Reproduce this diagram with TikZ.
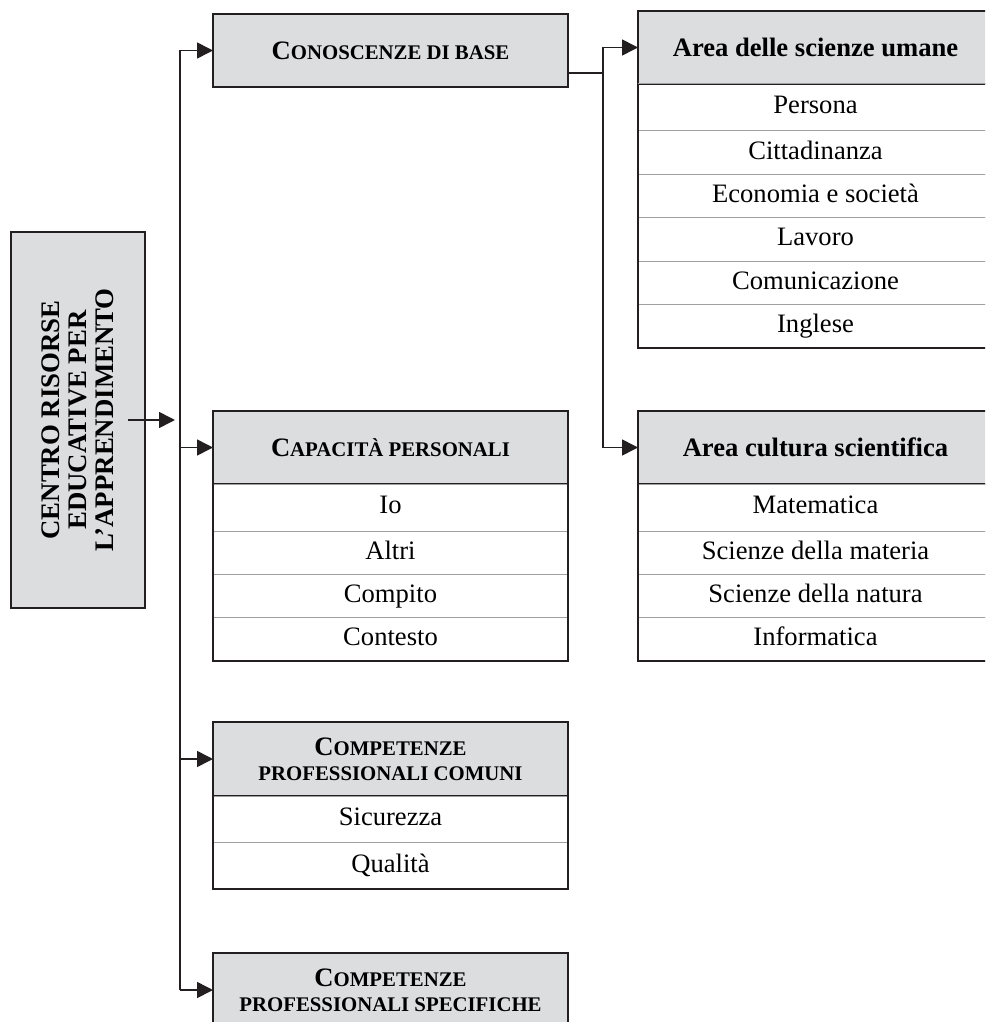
\documentclass[tikz,border=0pt]{standalone}
\usepackage{fontspec}
\setmainfont{Liberation Serif}
\usepackage{xcolor}
\definecolor{boxgray}{HTML}{DCDDDF}
\definecolor{linedark}{HTML}{231F20}
\definecolor{rulegray}{HTML}{A0A0A0}
\usetikzlibrary{arrows.meta, positioning}
\newcommand{\capsc}[2]{{\fontsize{13.3}{12.5}\selectfont #1}{\fontsize{10.4}{12.5}\selectfont #2}}

\begin{document}
\begin{tikzpicture}[x=0.5pt, y=-0.5pt,
  head/.style={draw=linedark, line width=1.2pt, fill=boxgray, anchor=north west,
    minimum width=177.5pt, minimum height=36.5pt, inner sep=0pt, outer sep=0pt,
    align=center, font=\fontsize{13.3}{12.5}\selectfont\bfseries},
  item/.style={draw=rulegray, line width=0.5pt, minimum width=177.5pt,
    minimum height=21.7pt, inner sep=0pt, outer sep=0pt,
    text height=9.2pt, text depth=2.8pt, font=\fontsize{13.3}{16}\selectfont},
  firstitem/.style={item, minimum height=23.5pt},
  frame/.style={draw=linedark, line width=0.8pt},
  link/.style={draw=linedark, line width=0.8pt},
  arr/.style={link, -{Triangle[length=8pt, width=8pt]}}]
\useasboundingbox (0,0) rectangle (985,1022);
\clip (0,0) rectangle (985,1022);

\node[draw=linedark, line width=1.2pt, fill=boxgray, rotate=90,
  minimum width=188pt, minimum height=67pt, align=center,
  font=\fontsize{13.4}{13.6}\selectfont\bfseries] (centro) at (78,420)
  {CENTRO RISORSE\\EDUCATIVE PER\\L'APPRENDIMENTO};

% first column
\node[head] (conosc) at (213,14) {\capsc{C}{ONOSCENZE DI BASE}};

\node[head] (capac) at (213,411) {\capsc{C}{APACITÀ PERSONALI}};
\node[firstitem, below=0pt of capac] (io) {Io};
\node[item, below=0pt of io] (altri) {Altri};
\node[item, below=0pt of altri] (compito) {Compito};
\node[item, below=0pt of compito] (contesto) {Contesto};
\draw[frame] (capac.south west) |- (contesto.south east) -- (capac.south east);

\node[head, minimum height=37pt] (comuni) at (213,722)
  {\capsc{C}{OMPETENZE}\\\capsc{}{PROFESSIONALI COMUNI}};
\node[item, minimum height=23.25pt, below=0pt of comuni] (sicur) {Sicurezza};
\node[item, minimum height=23.25pt, below=0pt of sicur] (qualita) {Qualità};
\draw[frame] (comuni.south west) |- (qualita.south east) -- (comuni.south east);

\node[head, minimum height=37pt] (specif) at (213,953)
  {\capsc{C}{OMPETENZE}\\\capsc{}{PROFESSIONALI SPECIFICHE}};

% second column
\node[head] (area1) at (638,11) {Area delle scienze umane};
\node[firstitem, below=0pt of area1] (persona) {Persona};
\node[item, below=0pt of persona] (citt) {Cittadinanza};
\node[item, below=0pt of citt] (econ) {Economia e società};
\node[item, below=0pt of econ] (lavoro) {Lavoro};
\node[item, below=0pt of lavoro] (comun) {Comunicazione};
\node[item, below=0pt of comun] (inglese) {Inglese};
\draw[frame] (area1.south west) |- (inglese.south east) -- (area1.south east);

\node[head] (area2) at (638,411) {Area cultura scientifica};
\node[firstitem, below=0pt of area2] (matem) {Matematica};
\node[item, below=0pt of matem] (materia) {Scienze della materia};
\node[item, below=0pt of materia] (natura) {Scienze della natura};
\node[item, below=0pt of natura] (inform) {Informatica};
\draw[frame] (area2.south west) |- (inform.south east) -- (area2.south east);

% connectors
\coordinate (cout) at (128,420);
\coordinate (trunk) at (180,0);
\coordinate (split) at (603,73);

\draw[arr, shorten >=2.5pt] (cout) -- (cout -| trunk);
\draw[link] (trunk |- conosc.west) -- (trunk |- specif.west);
\foreach \n in {conosc, capac, comuni, specif}
  \draw[arr] (trunk |- \n.west) -- (\n.west);

\draw[link] (conosc.east |- split) -- (split);
\draw[link] (split |- area1.west) -- (split |- area2.west);
\foreach \n in {area1, area2}
  \draw[arr] (split |- \n.west) -- (\n.west);
\end{tikzpicture}
\end{document}
